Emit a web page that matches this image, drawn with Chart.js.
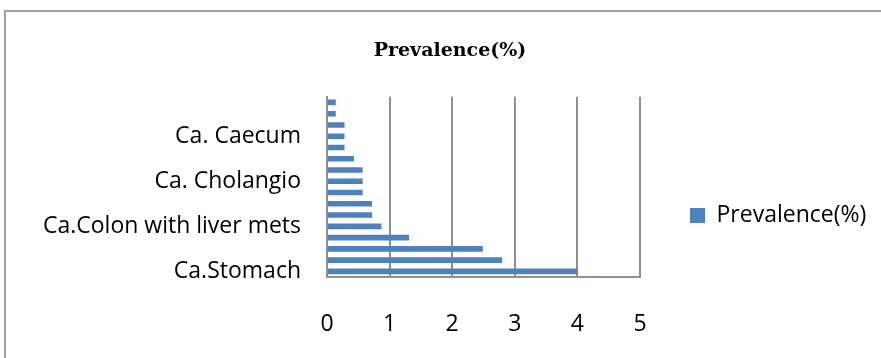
<!DOCTYPE html>
<html>
<head>
<meta charset="utf-8">
<title>Prevalence(%)</title>
<script src="https://cdn.jsdelivr.net/npm/chart.js@4/dist/chart.umd.min.js"></script>
<style>
    html, body { margin: 0; padding: 0; background: #fff; }
    #wrap { position: relative; width: 881px; height: 358px; overflow: hidden; }
    #frame {
        position: absolute; left: 4px; top: 10px; width: 1000px; height: 500px;
        border-top: 2px solid #a0a0a0; border-left: 2px solid #a0a0a0;
    }
    #prevChart { position: absolute; left: 0; top: 0; }
</style>
</head>
<body>
<div id="wrap">
    <div id="frame"></div>
    <canvas id="prevChart" width="881" height="358"></canvas>
</div>
<script>
// ========== DATA ==========
// categories listed bottom -> top, the way the original sheet draws them
// (only every 4th name is printed on the axis, the rest can't be read)
const categories = [
    'Ca.Stomach', '', '', '',
    'Ca.Colon with liver mets', '', '', '',
    'Ca. Cholangio', '', '', '',
    'Ca. Caecum', '', '', ''
];
const prevalence = [4.0, 2.8, 2.49, 1.31, 0.87, 0.72, 0.72, 0.57, 0.57, 0.57, 0.43, 0.28, 0.28, 0.28, 0.14, 0.14];
const xTicks = [0, 1, 2, 3, 4, 5];
const seriesName = 'Prevalence(%)';

const labelFont = { family: "'Open Sans', 'Liberation Sans', sans-serif", size: 23 };
const gridGrey = '#8f8f8f';

// plot box edges
const PLOT_LEFT = 327;
const PLOT_BOTTOM = 277;
const PAD_LEFT = 26;
const PAD_RIGHT = 7;
const LEGEND_WIDTH = 234;

document.addEventListener('DOMContentLoaded', function() {
    createPrevalenceChart();
});

function createPrevalenceChart() {
    const ctx = document.getElementById('prevChart');
    if (!ctx) return;

    new Chart(ctx, {
        type: 'bar',
        data: {
            labels: categories,
            datasets: [{
                label: seriesName,
                data: prevalence,
                backgroundColor: '#4f81bd',
                borderWidth: 0,
                categoryPercentage: 0.5,
                barPercentage: 1.0
            }]
        },
        options: {
            indexAxis: 'y',
            responsive: false,
            animation: false,
            layout: {
                padding: { left: PAD_LEFT, right: PAD_RIGHT, top: 0, bottom: 0 }
            },
            plugins: {
                tooltip: { enabled: false },
                title: {
                    display: true,
                    text: seriesName,
                    color: '#000',
                    font: { family: "'DejaVu Serif', serif", size: 19, weight: 'bold' },
                    padding: { top: 40, bottom: 34 }
                },
                legend: {
                    position: 'right',
                    align: 'end',
                    fullSize: false,
                    maxWidth: LEGEND_WIDTH,
                    labels: {
                        color: '#000',
                        font: labelFont,
                        boxWidth: 15,
                        boxHeight: 15,
                        padding: 50
                    }
                }
            },
            scales: {
                x: {
                    min: 0,
                    max: 5,
                    afterBuildTicks: function(scale) {
                        scale.ticks = xTicks.map(v => ({ value: v }));
                    },
                    afterFit: function(scale) {
                        scale.height = 358 - PLOT_BOTTOM;
                    },
                    grid: {
                        color: gridGrey,
                        lineWidth: 2,
                        drawTicks: false
                    },
                    border: { color: gridGrey, width: 2 },
                    ticks: {
                        color: '#000',
                        font: labelFont,
                        padding: 34
                    }
                },
                y: {
                    reverse: true,
                    afterFit: function(scale) {
                        scale.width = PLOT_LEFT - PAD_LEFT;
                    },
                    grid: { display: false, drawTicks: false },
                    border: { color: gridGrey, width: 2 },
                    ticks: {
                        autoSkip: false,
                        color: '#000',
                        font: labelFont,
                        padding: 26,
                        callback: function(value, index) {
                            return index % 4 === 0 ? categories[index] : '';
                        }
                    }
                }
            }
        }
    });
}
</script>
</body>
</html>
